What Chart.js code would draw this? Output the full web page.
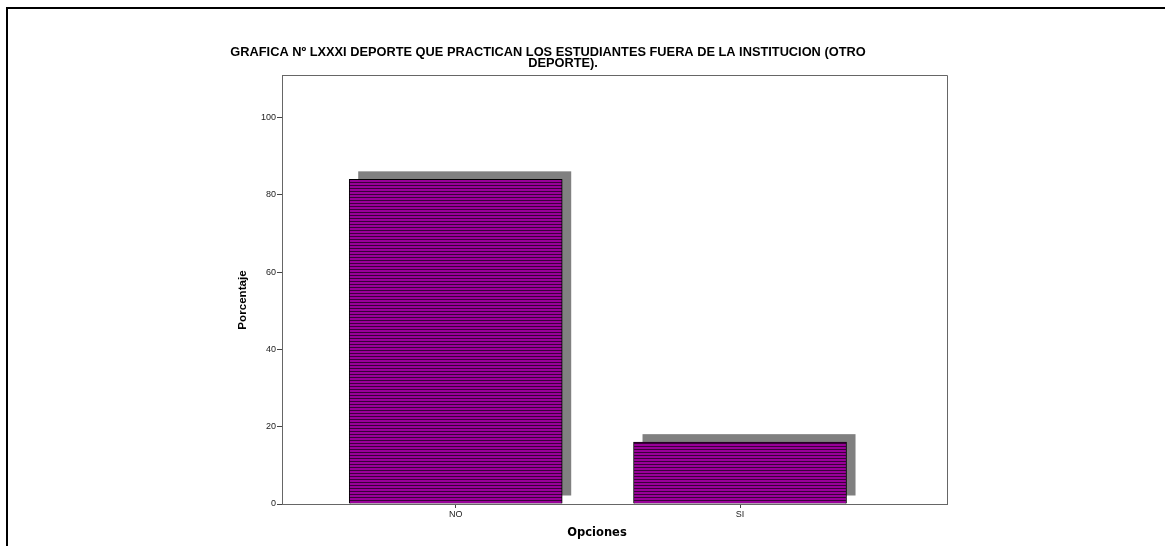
<!DOCTYPE html>
<html>
<head>
<meta charset="utf-8">
<script src="https://cdn.jsdelivr.net/npm/chart.js@4"></script>
<style>
  html, body { margin: 0; padding: 0; background: #fff; }
  #wrap { position: relative; width: 1165px; height: 546px; overflow: hidden; }
  #frame { position: absolute; left: 6px; top: 7px; right: -10px; bottom: -10px; border-left: 2px solid #000; border-top: 2px solid #000; pointer-events: none; }
  canvas { position: absolute; left: 0; top: 0; }
</style>
</head>
<body>
<div id="wrap">
  <canvas id="chart" width="1165" height="546"></canvas>
  <div id="frame"></div>
</div>
<script>
// data
const categories = ["NO", "SI"];
const percentages = [84, 16];
const yTicks = [0, 20, 40, 60, 80, 100];
const titleLines = ["GRAFICA Nº LXXXI DEPORTE QUE PRACTICAN LOS ESTUDIANTES FUERA DE LA INSTITUCION (OTRO", "DEPORTE)."];
const yTitle = "Porcentaje";
const xTitle = "Opciones";

// striped magenta fill like the SPSS pattern
function stripes() {
  const c = document.createElement("canvas");
  c.width = 4; c.height = 3;
  const g = c.getContext("2d");
  g.fillStyle = "#990099";
  g.fillRect(0, 0, 4, 3);
  g.fillStyle = "#3a003a";
  g.fillRect(0, 2, 4, 1);
  return g.createPattern(c, "repeat");
}

// grey drop shadow behind each bar, plus the plot frame and titles
const shadowPlugin = {
  id: "shadow",
  beforeDatasetsDraw(chart) {
    const ctx = chart.ctx;
    const meta = chart.getDatasetMeta(0);
    ctx.save();
    ctx.fillStyle = "#808080";
    meta.data.forEach((bar) => {
      const p = bar.getProps(["x", "y", "base", "width"], true);
      ctx.fillRect(p.x - p.width / 2 + 9, p.y - 8, p.width, p.base - p.y);
    });
    ctx.restore();
  },
  afterDraw(chart) {
    const ctx = chart.ctx;
    const a = chart.chartArea;
    ctx.save();
    ctx.strokeStyle = "#666";
    ctx.lineWidth = 1;
    ctx.beginPath();
    ctx.moveTo(a.left + 0.5, a.top + 0.5);
    ctx.lineTo(a.right + 0.5, a.top + 0.5);
    ctx.lineTo(a.right + 0.5, a.bottom);
    ctx.stroke();

    ctx.fillStyle = "#000";
    ctx.textAlign = "center";
    ctx.textBaseline = "middle";
    ctx.font = "bold 12.8px 'Liberation Sans', Arial, sans-serif";
    ctx.fillText(titleLines[0], 548, 52);
    ctx.fillText(titleLines[1], 563, 63);

    ctx.font = "bold 11.5px 'DejaVu Sans', sans-serif";
    ctx.fillText(xTitle, 597, 533);

    ctx.translate(243, 300);
    ctx.rotate(-Math.PI / 2);
    ctx.font = "bold 11.6px 'Liberation Sans', Arial, sans-serif";
    ctx.fillText(yTitle, 0, 0);
    ctx.restore();
  }
};

const chart = new Chart(document.getElementById("chart"), {
  type: "bar",
  data: {
    datasets: [{
      data: categories.map((c, i) => ({ x: i, y: percentages[i] })),
      backgroundColor: stripes(),
      borderColor: "#000",
      borderWidth: 1,
      borderSkipped: "bottom",
      barThickness: 213
    }]
  },
  options: {
    responsive: false,
    animation: false,
    layout: { padding: { left: 242, right: 218, top: 75, bottom: 12 } },
    plugins: { legend: { display: false }, tooltip: { enabled: false }, title: { display: false } },
    scales: {
      x: {
        type: "linear",
        offset: false,
        min: -0.611,
        max: 1.728,
        afterBuildTicks: (s) => { s.ticks = categories.map((c, i) => ({ value: i })); },
        afterFit: (s) => { s.height = 30; },
        grid: { drawOnChartArea: false, offset: false, color: "#444", tickLength: 4 },
        border: { color: "#666" },
        ticks: {
          callback: (v) => categories[v] ?? "",
          font: { family: "'Liberation Sans', Arial, sans-serif", size: 9 },
          color: "#222",
          padding: 1,
          maxRotation: 0
        }
      },
      y: {
        min: 0,
        max: 111,
        afterBuildTicks: (s) => { s.ticks = yTicks.map((v) => ({ value: v })); },
        afterFit: (s) => { s.width = 40; },
        grid: { drawOnChartArea: false, color: "#444", tickLength: 5 },
        border: { color: "#666" },
        ticks: {
          font: { family: "'Liberation Sans', Arial, sans-serif", size: 9 },
          color: "#222",
          padding: 1
        }
      }
    }
  },
  plugins: [shadowPlugin]
});
</script>
</body>
</html>
